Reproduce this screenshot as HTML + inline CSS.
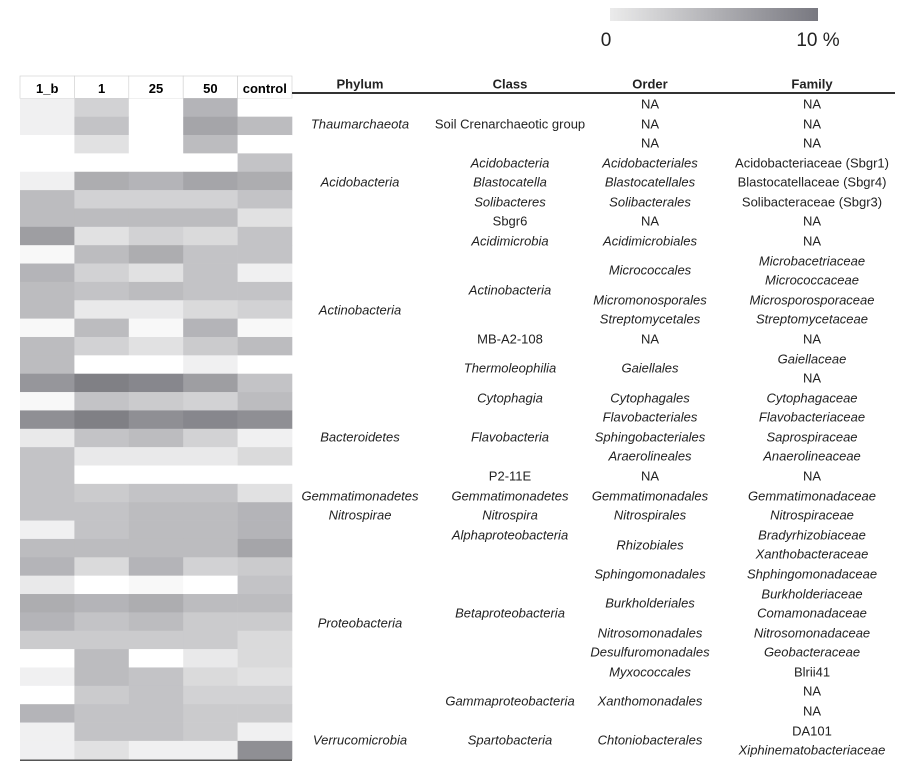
<!DOCTYPE html>
<html><head><meta charset="utf-8"><style>
body{margin:0;background:#fff;width:900px;height:768px;overflow:hidden;position:relative;font-family:"Liberation Sans",sans-serif;color:#222}
.t{position:absolute;font-size:13px;white-space:nowrap;transform:translate(-50%,-50%)}
.i{font-style:italic}
.h{font-weight:bold;font-size:13px}
</style></head><body>
<div style="position:absolute;left:610px;top:8px;width:208px;height:13px;background:linear-gradient(to right,#ebebeb,#787880)"></div>
<div class="t" style="left:606px;top:41px;font-size:19px">0</div>
<div class="t" style="left:818px;top:41px;font-size:19px">10 %</div>
<svg id="hm" width="300" height="768" style="position:absolute;left:0;top:0"></svg>
<div style="position:absolute;left:292px;top:92px;width:603px;height:1.5px;background:#333"></div>
<div id="tbl"></div>
<script>
const samples=["1_b","1","25","50","control"];
const abundance=[
[1,3,0,5,0],[1,4,0,6,4.5],[0,2,0,4.5,0],[0,0,0,0,4],[1,5.5,5,6,5.5],
[4.5,3,3,3,4],[4.5,4.5,4.5,4.5,2],[6.5,2,3,2.5,4],[0.5,4.5,5.5,4,4],[5,3,2,4,1],
[4.5,4,4.5,4,4],[4.5,1.5,1.5,2.5,3],[0.5,4.5,0.5,5,0.5],[4.5,3,2,3.5,4.5],[4.5,0,0,1,0],
[7,8.5,8,6.5,4],[0.5,4,3.5,3,4.5],[7.5,8.5,7.5,8,7.5],[1.5,4,4.5,3,1],[4,1.5,1.5,1.5,2.5],
[4,0,0,0,0],[4,3.5,4,4,2],[4,4,4.5,4.5,5],[1,4,4.5,4.5,5],[4.5,4.5,4.5,4.5,6],
[5,2.5,5,3,3.5],[1.5,0,0.5,0,4],[5.5,5,5.5,4.5,4.5],[5,4,4.5,3.5,3.5],[3.5,3.5,3.5,3.5,2.5],
[0,4.5,0,1.5,2.5],[1,4.5,4,2.5,2],[0,3.5,4,3,3],[5,4,4,3.5,3.5],[1,4,4,3.5,1],[1,2,1,1,7.5]];
const NS="http://www.w3.org/2000/svg";
const svg=document.getElementById('hm');
const x0=20,cw=54.4,y0=98.3,rh=18.36,hy=76;
const xPos=c=>x0+c*cw, yPos=r=>y0+r*rh;
const color=v=>{const t=Math.min(v,10)/10;const r=Math.round(255-t*150),b=Math.round(255-t*143);return `rgb(${r},${r},${b})`;};
samples.forEach((s,c)=>{
  const rect=document.createElementNS(NS,'rect');
  
  
  rect.setAttribute('x',xPos(c));rect.setAttribute('y',hy);rect.setAttribute('width',cw);rect.setAttribute('height',y0-hy);
  rect.setAttribute('fill','#fff');rect.setAttribute('stroke','#ccc');rect.setAttribute('stroke-width','0.6');
  svg.appendChild(rect);
  const tx=document.createElementNS(NS,'text');
  
  
  tx.setAttribute('x',xPos(c)+cw/2);tx.setAttribute('y',93);tx.setAttribute('text-anchor','middle');
  tx.setAttribute('font-family','Liberation Sans, sans-serif');tx.setAttribute('font-weight','bold');tx.setAttribute('font-size','13');
  tx.textContent=s;svg.appendChild(tx);
});
abundance.forEach((row,r)=>row.forEach((v,c)=>{
  const rect=document.createElementNS(NS,'rect');
  
  
  rect.setAttribute('x',xPos(c));rect.setAttribute('y',yPos(r));rect.setAttribute('width',cw+0.3);rect.setAttribute('height',rh+0.3);
  rect.setAttribute('fill',color(v));svg.appendChild(rect);
}));
const bl=document.createElementNS(NS,'line');


bl.setAttribute('x1',x0);bl.setAttribute('x2',x0+5*cw);bl.setAttribute('y1',yPos(abundance.length)+1);bl.setAttribute('y2',yPos(abundance.length)+1);
bl.setAttribute('stroke','#555');bl.setAttribute('stroke-width','1.5');svg.appendChild(bl);

// table
const ty0=104,tr=19.58;
const cols={phylum:360,cls:510,order:650,family:812};
const headers=[["Phylum",cols.phylum],["Class",cols.cls],["Order",cols.order],["Family",cols.family]];
const phylum=[["Thaumarchaeota",1],["Acidobacteria",4],["Actinobacteria",10.5],["Bacteroidetes",17],["Gemmatimonadetes",20],["Nitrospirae",21],["Proteobacteria",26.5],["Verrucomicrobia",32.5]];
const classes=[["Soil Crenarchaeotic group",1,0],["Acidobacteria",3,1],["Blastocatella",4,1],["Solibacteres",5,1],["Sbgr6",6,0],["Acidimicrobia",7,1],["Actinobacteria",9.5,1],["MB-A2-108",12,0],["Thermoleophilia",13.5,1],["Cytophagia",15,1],["Flavobacteria",17,1],["P2-11E",19,0],["Gemmatimonadetes",20,1],["Nitrospira",21,1],["Alphaproteobacteria",22,1],["Betaproteobacteria",26,1],["Gammaproteobacteria",30.5,1],["Spartobacteria",32.5,1]];
const orders=[["NA",0,0],["NA",1,0],["NA",2,0],["Acidobacteriales",3,1],["Blastocatellales",4,1],["Solibacterales",5,1],["NA",6,0],["Acidimicrobiales",7,1],["Micrococcales",8.5,1],["Micromonosporales",10,1],["Streptomycetales",11,1],["NA",12,0],["Gaiellales",13.5,1],["Cytophagales",15,1],["Flavobacteriales",16,1],["Sphingobacteriales",17,1],["Araerolineales",18,1],["NA",19,0],["Gemmatimonadales",20,1],["Nitrospirales",21,1],["Rhizobiales",22.5,1],["Sphingomonadales",24,1],["Burkholderiales",25.5,1],["Nitrosomonadales",27,1],["Desulfuromonadales",28,1],["Myxococcales",29,1],["Xanthomonadales",30.5,1],["Chtoniobacterales",32.5,1]];
const families=[["NA",0],["NA",0],["NA",0],["Acidobacteriaceae (Sbgr1)",0],["Blastocatellaceae (Sbgr4)",0],["Solibacteraceae (Sbgr3)",0],["NA",0],["NA",0],["Microbacetriaceae",1],["Micrococcaceae",1],["Microsporosporaceae",1],["Streptomycetaceae",1],["NA",0],["Gaiellaceae",1],["NA",0],["Cytophagaceae",1],["Flavobacteriaceae",1],["Saprospiraceae",1],["Anaerolineaceae",1],["NA",0],["Gemmatimonadaceae",1],["Nitrospiraceae",1],["Bradyrhizobiaceae",1],["Xanthobacteraceae",1],["Shphingomonadaceae",1],["Burkholderiaceae",1],["Comamonadaceae",1],["Nitrosomonadaceae",1],["Geobacteraceae",1],["Blrii41",0],["NA",0],["NA",0],["DA101",0],["Xiphinematobacteriaceae",1]];
const tbl=document.getElementById('tbl');
function put(txt,x,y,cls,name){const d=document.createElement('div');d.className='t '+cls;d.style.left=x+'px';d.style.top=y+'px';d.textContent=txt;


tbl.appendChild(d);}
headers.forEach(h=>put(h[0],h[1],84,'h','table-column-header'));
phylum.forEach(p=>put(p[0],cols.phylum,ty0+p[1]*tr,'i','phylum-label'));
classes.forEach(p=>put(p[0],cols.cls,ty0+p[1]*tr,p[2]?'i':'','class-label'));
orders.forEach(p=>put(p[0],cols.order,ty0+p[1]*tr,p[2]?'i':'','order-label'));
families.forEach((p,i)=>put(p[0],cols.family,ty0+i*tr,p[1]?'i':'','family-label'));
</script>
</body></html>
